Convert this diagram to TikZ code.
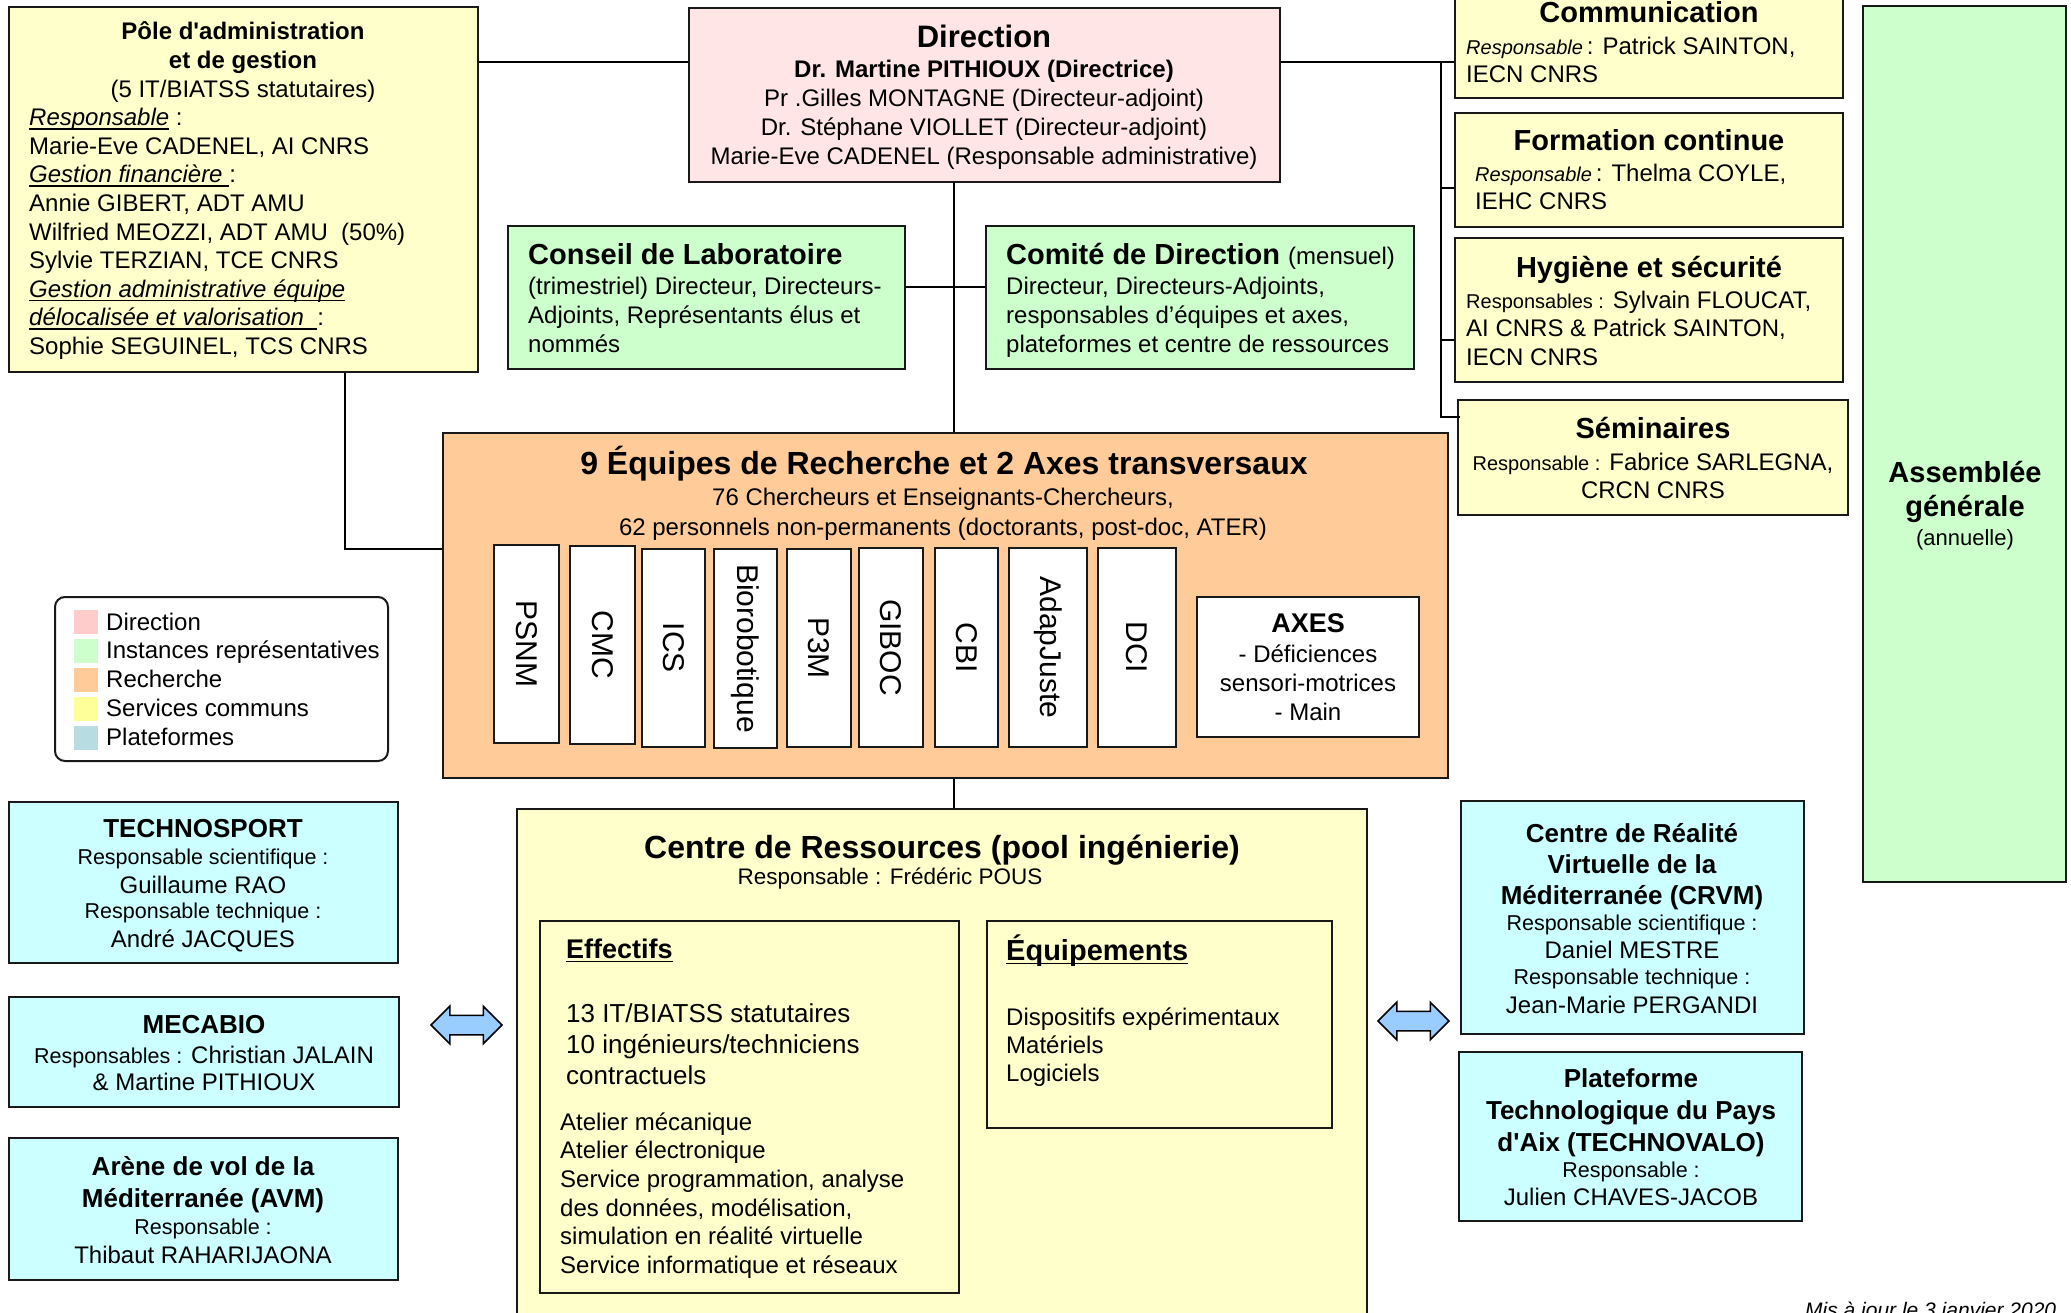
\documentclass[tikz,border=0pt]{standalone}
\usepackage{fontspec}
\setmainfont{Liberation Sans}
\setmonofont{Liberation Sans}
\usetikzlibrary{fit,shapes.arrows}
\definecolor{cDir}{HTML}{FFE5E5}
\definecolor{cGreen}{HTML}{CCFFCC}
\definecolor{cOrange}{HTML}{FFCC99}
\definecolor{cYellow}{HTML}{FFFFCC}
\definecolor{cCyan}{HTML}{CCFFFF}
\definecolor{lPink}{HTML}{FFCCCC}
\definecolor{lYellow}{HTML}{FFFF99}
\definecolor{lBlue}{HTML}{B7DDE3}
\definecolor{cArrow}{HTML}{99CCFF}
\newcommand\fz[2]{\fontsize{#1}{#2}\selectfont}
\newcommand\Lc[1]{\vtop{\halign{\hfil##\hfil\cr#1\crcr}}}
\newcommand\Ll[1]{\vtop{\halign{##\hfil\cr#1\crcr}}}
\newcommand\myul[1]{\leavevmode\setbox0=\hbox{#1}\rlap{\rule[-4pt]{\wd0}{1.5pt}}\box0\relax}
\newcommand\ap{{\ttfamily\char39}}
\tikzset{
  box/.style={draw=black!90, line width=2pt, inner sep=0pt},
  team/.style={box, fill=white},
  txt/.style={inner sep=0pt, anchor=base},
  txtl/.style={inner sep=0pt, anchor=base west},
  teamtxt/.style={inner sep=0pt, rotate=-90, font=\fz{30}{36}},
  link/.style={draw=black, line width=2pt},
  swatch/.style={inner sep=0pt, minimum width=24pt, minimum height=24pt, anchor=north west},
  dblarrow/.style={double arrow, draw=black, line width=1.5pt, fill=cArrow, minimum height=71pt, double arrow head extend=9pt, inner xsep=0pt, inner ysep=9pt}
}
\begin{document}
\begin{tikzpicture}[x=1pt,y=-1pt]
\useasboundingbox (0,0) rectangle (2071,1313);
\fill[white] (0,0) rectangle (2071,1313);

% ---------- boxes ----------
\node[box, fill=cYellow, fit={(9,7)(478,372)}] (pole) {};
\node[box, fill=cDir, fit={(689,8)(1280,182)}] (dir) {};
\node[box, fill=cGreen, fit={(508,226)(905,369)}] (cons) {};
\node[box, fill=cGreen, fit={(986,226)(1414,369)}] (com) {};
\node[box, fill=cYellow, fit={(1455,-3)(1843,98)}] (comm) {};
\node[box, fill=cYellow, fit={(1455,113)(1843,227)}] (form) {};
\node[box, fill=cYellow, fit={(1455,238)(1843,382)}] (hyg) {};
\node[box, fill=cYellow, fit={(1458,400)(1848,515)}] (sem) {};
\node[box, fill=cGreen, fit={(1863,6)(2066,882)}] (ag) {};
\node[box, fill=cOrange, fit={(443,433)(1448,778)}] (eq) {};

\node[team, fit={(494,545)(559,743)}] (psnm) {};
\node[team, fit={(570,546)(635,744)}] (cmc) {};
\node[team, fit={(642,549)(705,747)}] (ics) {};
\node[team, fit={(714,549)(777,748)}] (bio) {};
\node[team, fit={(787,549)(851,747)}] (p3m) {};
\node[team, fit={(859,548)(923,747)}] (giboc) {};
\node[team, fit={(935,548)(998,747)}] (cbi) {};
\node[team, fit={(1009,548)(1087,747)}] (adap) {};
\node[team, fit={(1098,548)(1176,747)}] (dci) {};
\node[team, fit={(1197,597)(1419,737)}] (axes) {};

\node[box, fill=white, rounded corners=10pt, fit={(55,597)(388,761)}] (legend) {};
\node[box, fill=cCyan, fit={(9,802)(398,963)}] (techno) {};
\node[box, fill=cCyan, fit={(9,997)(399,1107)}] (meca) {};
\node[box, fill=cCyan, fit={(9,1138)(398,1280)}] (avm) {};
\node[box, fill=cYellow, fit={(517,809)(1367,1335)}] (crs) {};
\node[box, fit={(540,921)(959,1293)}] (eff) {};
\node[box, fit={(987,921)(1332,1128)}] (equ) {};
\node[box, fill=cCyan, fit={(1461,801)(1804,1034)}] (crvm) {};
\node[box, fill=cCyan, fit={(1459,1052)(1802,1221)}] (tval) {};

\node[dblarrow] (arrL) at (466.5,1025) {};
\node[dblarrow] (arrR) at (1413.5,1021) {};

% ---------- connectors ----------
\coordinate (hTop) at (0,62);
\coordinate (vX) at (954,0);
\coordinate (trunk) at (1441,62);
\coordinate (trunkEnd) at (1441,417);
\coordinate (bF) at (1441,188);
\coordinate (bH) at (1441,340);
\coordinate (yC) at (0,287);
\coordinate (pX) at (345,0);
\coordinate (pY) at (0,549);
\draw[link] (pole.east |- hTop) -- (dir.west |- hTop);
\draw[link] (dir.east |- hTop) -- (comm.west |- hTop);
\draw[link] (trunk) -- (trunkEnd) -- ([xshift=3pt]sem.west |- trunkEnd);
\draw[link] (bF) -- (bF -| form.west);
\draw[link] (bH) -- (bH -| hyg.west);
\draw[link] (vX |- dir.south) -- (vX |- eq.north);
\draw[link] (cons.east |- yC) -- (com.west |- yC);
\draw[link] (pX |- pole.south) -- (pX |- pY) -- (eq.west |- pY);
\draw[link] (vX |- eq.south) -- (vX |- crs.north);

% ---------- texts ----------
\node[txt] (poleT) at (243,40) {\fz{24}{28.6}\Lc{\bfseries Pôle d\ap administration\cr \bfseries et de gestion\cr (5 IT/BIATSS statutaires)}};
\node[txtl] (poleL) at (29,125.8) {\fz{24}{28.6}\Ll{\myul{\itshape Responsable} :\cr Marie-Eve CADENEL, AI CNRS\cr \myul{\itshape Gestion financière }:\cr Annie GIBERT, ADT AMU\cr Wilfried MEOZZI, ADT AMU\ \ (50\%)\cr Sylvie TERZIAN, TCE CNRS\cr \myul{\itshape Gestion administrative équipe}\cr \myul{\itshape délocalisée et valorisation\ \ }:\cr Sophie SEGUINEL, TCS CNRS}};

\node[txt] (dirT) at (984,48) {\fz{31}{36}\bfseries Direction};
\node[txt] (dirL) at (984,78) {\fz{24}{29}\Lc{\bfseries Dr. Martine PITHIOUX (Directrice)\cr Pr .Gilles MONTAGNE (Directeur-adjoint)\cr Dr. Stéphane VIOLLET (Directeur-adjoint)\cr Marie-Eve CADENEL (Responsable administrative)}};

\node[txtl] (consT) at (528,265) {\fz{29}{34}\bfseries Conseil de Laboratoire};
\node[txtl] (consL) at (528,295) {\fz{24}{29}\Ll{(trimestriel) Directeur, Directeurs-\cr Adjoints, Représentants élus et\cr nommés}};
\node[txtl] (comT) at (1006,265) {\fz{29}{34}\textbf{Comité de Direction} {\fz{24}{29}(mensuel)}};
\node[txtl] (comL) at (1006,295) {\fz{24}{29}\Ll{Directeur, Directeurs-Adjoints,\cr responsables d’équipes et axes,\cr plateformes et centre de ressources}};

\node[txt] (commT) at (1649,23) {\fz{29}{34}\bfseries Communication};
\node[txtl] (commL) at (1466,55) {\fz{24}{28}\Ll{{\fz{20}{24}\itshape Responsable}\,: Patrick SAINTON,\cr IECN CNRS}};
\node[txt] (formT) at (1649,151) {\fz{29}{34}\bfseries Formation continue};
\node[txtl] (formL) at (1475,182) {\fz{24}{28}\Ll{{\fz{20}{24}\itshape Responsable}\,: Thelma COYLE,\cr IEHC CNRS}};
\node[txt] (hygT) at (1649,278) {\fz{29}{34}\bfseries Hygiène et sécurité};
\node[txtl] (hygL) at (1466,309) {\fz{24}{28}\Ll{{\fz{20}{24}Responsables :} Sylvain FLOUCAT,\cr AI CNRS \& Patrick SAINTON,\cr IECN CNRS}};
\node[txt] (semT) at (1653,438) {\fz{29}{34}\bfseries Séminaires};
\node[txt] (semL) at (1653,470) {\fz{24}{28}\Lc{{\fz{20}{24}Responsable :} Fabrice SARLEGNA,\cr CRCN CNRS}};
\node[txt] (agT) at (1965,482) {\fz{29}{34}\Lc{\bfseries Assemblée\cr \bfseries générale}};
\node[txt] (agL) at (1965,545) {\fz{22}{26}(annuelle)};

\node[txt] (eqT) at (944,474) {\fz{32}{38}\bfseries 9 Équipes de Recherche et 2 Axes transversaux};
\node[txt] (eqL) at (943,505) {\fz{24}{30}\Lc{76 Chercheurs et Enseignants-Chercheurs,\cr 62 personnels non-permanents (doctorants, post-doc, ATER)}};

\node[teamtxt] (tpsnm) at (psnm.center) {PSNM};
\node[teamtxt] (tcmc) at (cmc.center) {CMC};
\node[teamtxt] (tics) at (ics.center) {ICS};
\node[teamtxt] (tbio) at (bio.center) {Biorobotique};
\node[teamtxt] (tp3m) at (p3m.center) {P3M};
\node[teamtxt] (tgiboc) at (giboc.center) {GIBOC};
\node[teamtxt] (tcbi) at (cbi.center) {CBI};
\node[teamtxt] (tadap) at (adap.center) {AdapJuste};
\node[teamtxt] (tdci) at (dci.center) {DCI};
\node[txt] (taxes) at (1308,632) {\fz{27}{32}\bfseries AXES};
\node[txt] (taxesL) at (1308,662) {\fz{24}{29}\Lc{- Déficiences\cr sensori-motrices\cr - Main}};

% legend
\node[swatch, fill=lPink] (swDir) at (74,610) {};
\node[swatch, fill=cGreen] (swIns) at (74,639) {};
\node[swatch, fill=cOrange] (swRec) at (74,668) {};
\node[swatch, fill=lYellow] (swSer) at (74,697) {};
\node[swatch, fill=lBlue] (swPla) at (74,726) {};
\node[txtl] (lgT) at (106,630) {\fz{24}{28.8}\Ll{Direction\cr Instances représentatives\cr Recherche\cr Services communs\cr Plateformes}};

% platforms left
\node[txt] (technoT) at (203,837) {\fz{26}{30}\bfseries TECHNOSPORT};
\node[txt] (technoL1) at (203,864) {\fz{21.5}{26}Responsable scientifique :};
\node[txt] (technoL2) at (203,893) {\fz{24}{28}Guillaume RAO};
\node[txt] (technoL3) at (203,918) {\fz{21.5}{26}Responsable technique :};
\node[txt] (technoL4) at (203,947) {\fz{24}{28}André JACQUES};
\node[txt] (mecaT) at (204,1033) {\fz{26}{30}\bfseries MECABIO};
\node[txt] (mecaL) at (204,1063) {\fz{24}{27}\Lc{{\fz{21.5}{26}Responsables :} Christian JALAIN\cr \& Martine PITHIOUX}};
\node[txt] (avmT) at (203,1175) {\fz{26}{32}\Lc{\bfseries Arène de vol de la\cr \bfseries Méditerranée (AVM)}};
\node[txt] (avmL1) at (203,1234) {\fz{21.5}{26}Responsable :};
\node[txt] (avmL2) at (203,1263) {\fz{24}{28}Thibaut RAHARIJAONA};

% centre de ressources
\node[txt] (crsT) at (942,858) {\fz{32}{38}\bfseries Centre de Ressources (pool ingénierie)};
\node[txt] (crsR) at (890,884) {\fz{22.5}{27}Responsable : Frédéric POUS};
\node[txtl] (effT) at (566,958) {\fz{27}{32}\bfseries\myul{Effectifs}};
\node[txtl] (effL1) at (566,1022) {\fz{26}{31}\Ll{13 IT/BIATSS statutaires\cr 10 ingénieurs/techniciens\cr contractuels}};
\node[txtl] (effL2) at (560,1130) {\fz{24}{28.7}\Ll{Atelier mécanique\cr Atelier électronique\cr Service programmation, analyse\cr des données, modélisation,\cr simulation en réalité virtuelle\cr Service informatique et réseaux}};
\node[txtl] (equT) at (1006,960) {\fz{29}{34}\bfseries\myul{Équipements}};
\node[txtl] (equL) at (1006,1025) {\fz{24}{28}\Ll{Dispositifs expérimentaux\cr Matériels\cr Logiciels}};

% platforms right
\node[txt] (crvmT) at (1632,842) {\fz{26}{31}\Lc{\bfseries Centre de Réalité\cr \bfseries Virtuelle de la\cr \bfseries Méditerranée (CRVM)}};
\node[txt] (crvmL1) at (1632,930) {\fz{21.5}{26}Responsable scientifique :};
\node[txt] (crvmL2) at (1632,958) {\fz{24}{28}Daniel MESTRE};
\node[txt] (crvmL3) at (1632,984) {\fz{21.5}{26}Responsable technique :};
\node[txt] (crvmL4) at (1632,1013) {\fz{24}{28}Jean-Marie PERGANDI};
\node[txt] (tvalT) at (1631,1087) {\fz{26}{32}\Lc{\bfseries Plateforme\cr \bfseries Technologique du Pays\cr \bfseries d\ap Aix (TECHNOVALO)}};
\node[txt] (tvalL1) at (1631,1177) {\fz{21.5}{26}Responsable :};
\node[txt] (tvalL2) at (1631,1205) {\fz{24}{28}Julien CHAVES-JACOB};

\node[txtl] (maj) at (1805,1317) {\fz{21}{25}\itshape Mis à jour le 3 janvier 2020};
\end{tikzpicture}
\end{document}
